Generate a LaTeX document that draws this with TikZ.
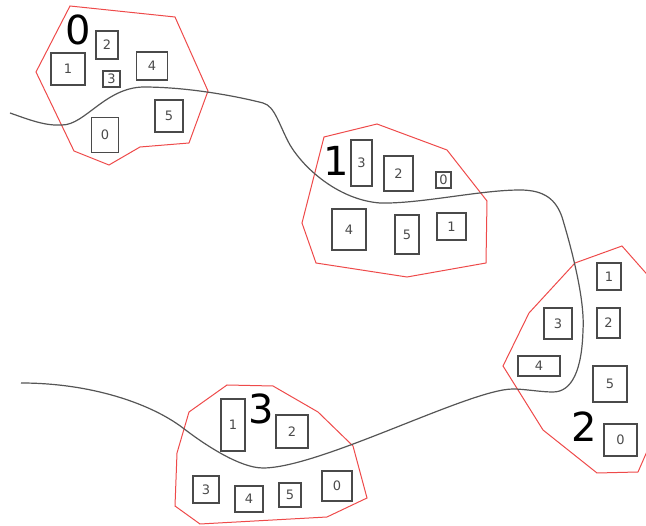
\documentclass[tikz,border=0pt]{standalone}
\usepackage{fontspec}
\setmainfont{DejaVu Sans}
\usepackage{xcolor}
\definecolor{hullred}{HTML}{EE4A4A}
\definecolor{cellgrey}{HTML}{4A4A4A}
\definecolor{cutgrey}{HTML}{555555}
\tikzset{
  cell/.style={draw=cellgrey,line width=1.1pt,inner sep=0pt,text=cellgrey,
    font=\fontsize{13}{13}\selectfont},
  hull/.style={draw=hullred,line width=1pt,line join=miter},
  cutline/.style={draw=cutgrey,line width=1.2pt},
  tag/.style={inner sep=0pt,font=\fontsize{40}{40}\selectfont}
}
\begin{document}
\begin{tikzpicture}[x=1pt,y=-1pt]
  \useasboundingbox (0,0) rectangle (646,526);
  \clip (0,0) rectangle (646,526);
  % cluster outlines
  \draw[hull] (70,6) -- (175,17) -- (208,91) -- (189,143) -- (140,147)
    -- (109,165) -- (74,151) -- (36,72) -- cycle;
  \draw[hull] (324,137) -- (377,124) -- (447,150) -- (487,201) -- (486,263)
    -- (407,277) -- (316,263) -- (302,223) -- cycle;
  \draw[hull] (575,263) -- (622,246) -- (652,280) -- (652,440) -- (638,472)
    -- (597,473) -- (543,430) -- (503,366) -- (529,313) -- cycle;
  \draw[hull] (227,385) -- (273,386) -- (318,412) -- (353,446) -- (367,498)
    -- (327,517) -- (200,524) -- (175,506) -- (177,453) -- (189,412) -- cycle;
  % the cut
  \draw[cutline] (10,113) .. controls (30,120) and (45,126) .. (62,125)
    .. controls (85,125) and (105,88) .. (143,87)
    .. controls (190,87) and (240,97) .. (263,103)
    .. controls (275,106) and (279,125) .. (290,145)
    .. controls (305,170) and (340,200) .. (380,203)
    .. controls (420,204) and (480,190) .. (520,190)
    .. controls (545,190) and (556,200) .. (562,217)
    .. controls (572,250) and (585,300) .. (583,330)
    .. controls (582,370) and (572,392) .. (553,392)
    .. controls (540,392) and (525,389) .. (513,389)
    .. controls (470,389) and (320,468) .. (263,468)
    .. controls (240,468) and (205,445) .. (183,428)
    .. controls (150,403) and (90,383) .. (21,383);
  % cluster numbers
  \node[tag] (tag0) at (78,30) {0};
  \node[tag] (tag1) at (336,161) {1};
  \node[tag] (tag2) at (584,427) {2};
  \node[tag] (tag3) at (261,409) {3};
  % cells
  \foreach \nm/\lbl/\x/\y/\w/\h in {
      a2/2/107/45/22/28, a1/1/68/69/34/32, a3/3/111.5/79/17/16,
      a4/4/152/66/31/28, a5/5/169/116/28/32, a0/0/105/135/27/35,
      b3/3/361.5/163/21/46, b2/2/398.5/173.5/29/35, b0/0/443.5/180/15/16,
      b4/4/349/229.5/34/41, b5/5/407/234.5/24/39, b1/1/451.5/226.5/29/27,
      c1/1/609/276.5/24/27, c3/3/558/323.5/28/31, c2/2/608.5/323/23/30,
      c4/4/539/366/42/20, c5/5/610/384/34/36, c0/0/620.5/440/33/32,
      d1/1/233/425/24/52, d2/2/292/431.5/32/33, d3/3/206/489.5/26/27,
      d4/4/249/499/28/26, d5/5/290/495/22/24, d0/0/337/486/30/30} {
    \node[cell,minimum width=\w pt,minimum height=\h pt] (\nm) at (\x,\y) {\lbl};
  }
\end{tikzpicture}
\end{document}
